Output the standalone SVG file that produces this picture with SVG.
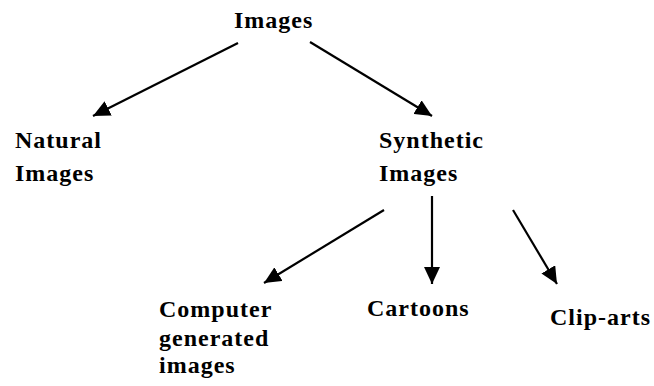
<svg xmlns="http://www.w3.org/2000/svg" width="654" height="386" viewBox="0 0 654 386">
<style>
text{font-family:"Liberation Serif","Times New Roman",serif;font-weight:bold;font-size:24px;fill:#000;letter-spacing:1px}
.c{stroke:#000;stroke-width:2.2;fill:none}
</style>
<defs>
<marker id="ah" markerUnits="userSpaceOnUse" markerWidth="18" markerHeight="16" viewBox="0 0 18 16" refX="17" refY="8" orient="auto">
<path d="M0,0 L17,8 L0,16 Z" fill="#000"/>
</marker>
</defs>
<rect width="654" height="386" fill="#fff"/>
<g id="connectors">
<line class="c" x1="238" y1="43" x2="93" y2="116" marker-end="url(#ah)"/>
<line class="c" x1="310" y1="42" x2="432" y2="116" marker-end="url(#ah)"/>
<line class="c" x1="384" y1="210" x2="264" y2="283" marker-end="url(#ah)"/>
<line class="c" x1="432" y1="196" x2="432" y2="284" marker-end="url(#ah)"/>
<line class="c" x1="513" y1="210" x2="557" y2="284" marker-end="url(#ah)"/>
</g>
<g id="images"><text x="234" y="28">Images</text></g>
<g id="natural"><text x="15" y="148">Natural</text><text x="15" y="181">Images</text></g>
<g id="synthetic"><text x="379" y="148">Synthetic</text><text x="379" y="181">Images</text></g>
<g id="computer"><text x="159" y="317">Computer</text><text x="159" y="346">generated</text><text x="159" y="373">images</text></g>
<g id="cartoons"><text x="367" y="316">Cartoons</text></g>
<g id="cliparts"><text x="550" y="325">Clip-arts</text></g>
</svg>
